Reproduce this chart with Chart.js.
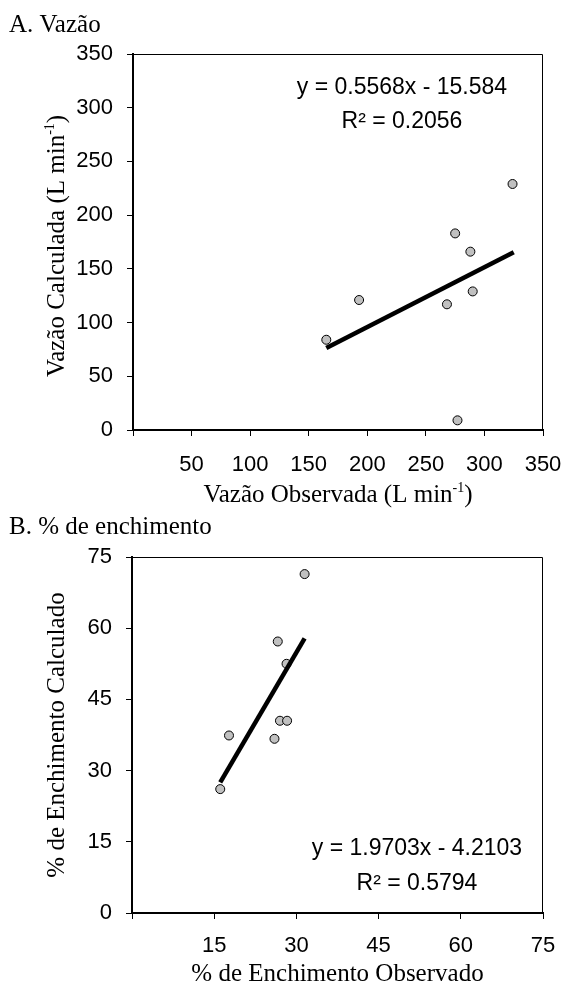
<!DOCTYPE html>
<html>
<head>
<meta charset="utf-8">
<script src="https://cdn.jsdelivr.net/npm/chart.js@4.4.0/dist/chart.umd.min.js"></script>
<style>
  body { margin: 0; background: #fff; }
  .panel { position: relative; width: 562px; }
  #panelA { height: 510px; }
  #panelB { height: 477px; }
</style>
</head>
<body>
<div class="panel" id="panelA"><canvas id="chartA"></canvas></div>
<div class="panel" id="panelB"><canvas id="chartB"></canvas></div>
<script>
// A. Vazão - observed vs calculated flow (L min-1)
var vazaoObservada = [165, 193, 268, 275, 288, 290, 277, 324];
var vazaoCalculada = [84, 121, 117, 183, 166, 129, 9, 229];
var vazaoTicks = [0, 50, 100, 150, 200, 250, 300, 350];
var vazaoSlope = 0.5568, vazaoIntercept = -15.584;
var vazaoTrendX = [165, 325];

// B. % de enchimento - observed vs calculated filling
var enchObservado = [31.5, 26.6, 28.2, 27.0, 28.3, 17.7, 26.0, 16.1];
var enchCalculado = [71.4, 57.2, 52.5, 40.5, 40.5, 37.4, 36.7, 26.1];
var enchTicks = [0, 15, 30, 45, 60, 75];
var enchSlope = 1.9703, enchIntercept = -4.2103;
var enchTrendX = [16.1, 31.5];

var SANS = "'Liberation Sans', Arial, sans-serif";
var SERIF = "'Liberation Serif', 'Times New Roman', serif";

function toPoints(xs, ys) {
  var pts = [];
  for (var i = 0; i < xs.length; i++) pts.push({ x: xs[i], y: ys[i] });
  return pts;
}

function trendPoints(xs, slope, intercept) {
  return xs.map(function (x) { return { x: x, y: slope * x + intercept }; });
}

// draw text made of pieces, some of them superscript, centered on x
function drawParts(ctx, parts, x, y, size) {
  var supSize = Math.round(size * 0.58);
  var widths = parts.map(function (p) {
    ctx.font = (p.sup ? supSize : size) + "px " + SERIF;
    return ctx.measureText(p.t).width;
  });
  var total = widths.reduce(function (a, b) { return a + b; }, 0);
  var cx = x - total / 2;
  ctx.textAlign = "left";
  ctx.textBaseline = "alphabetic";
  parts.forEach(function (p, i) {
    ctx.font = (p.sup ? supSize : size) + "px " + SERIF;
    ctx.fillText(p.t, cx, p.sup ? y - size * 0.42 : y);
    cx += widths[i];
  });
}

function makeChart(id, cfg) {
  var decor = {
    id: "decor",
    afterDraw: function (chart) {
      var ctx = chart.ctx;
      var a = chart.chartArea;
      var xs = chart.scales.x, ys = chart.scales.y;
      ctx.save();
      // top and right frame
      ctx.strokeStyle = "#000";
      ctx.lineWidth = 1;
      ctx.beginPath();
      ctx.moveTo(a.left, a.top + 0.5);
      ctx.lineTo(a.right - 0.5, a.top + 0.5);
      ctx.lineTo(a.right - 0.5, a.bottom);
      ctx.stroke();

      ctx.fillStyle = "#000";
      // panel title
      ctx.font = "25px " + SERIF;
      ctx.textAlign = "left";
      ctx.textBaseline = "alphabetic";
      ctx.fillText(cfg.title, 9, cfg.titleY);

      // x axis title
      drawParts(ctx, cfg.xTitle, (a.left + a.right) / 2, cfg.xTitleY, 25);

      // y axis title (rotated)
      ctx.save();
      ctx.translate(cfg.yTitleX, (a.top + a.bottom) / 2 + cfg.yTitleShift);
      ctx.rotate(-Math.PI / 2);
      drawParts(ctx, cfg.yTitle, 0, 0, 25);
      ctx.restore();

      // regression equation
      ctx.font = "23px " + SANS;
      ctx.textAlign = "center";
      ctx.textBaseline = "alphabetic";
      var ex = xs.getPixelForValue(cfg.eqAt[0]);
      var ey = ys.getPixelForValue(cfg.eqAt[1]);
      ctx.fillText(cfg.eq1, ex, ey);
      ctx.fillText(cfg.eq2, ex, ey + cfg.eqGap);
      ctx.restore();
    }
  };

  function axis(ticks, pad, fit) {
    return {
      type: "linear",
      min: ticks[0],
      max: ticks[ticks.length - 1],
      afterBuildTicks: function (scale) {
        scale.ticks = ticks.map(function (v) { return { value: v }; });
      },
      afterFit: fit,
      ticks: {
        color: "#000",
        font: { family: SANS, size: 22 },
        padding: pad,
        callback: function (v) { return v; }
      },
      grid: { drawOnChartArea: false, drawTicks: true, tickLength: 6, color: "#000", lineWidth: 1 },
      border: { display: true, color: "#000", width: 2 }
    };
  }

  var xAxis = axis(cfg.ticks, cfg.xPad, function (s) {
    s.height = cfg.xHeight;
    s.paddingLeft = 0;
    s.paddingRight = 0;
  });
  xAxis.ticks.callback = function (v) { return v === 0 ? "" : v; };
  var yAxis = axis(cfg.ticks, 14, function (s) {
    s.width = cfg.left;
    s.paddingTop = 0;
    s.paddingBottom = 0;
  });

  return new Chart(document.getElementById(id), {
    type: "scatter",
    data: {
      datasets: [
        {
          data: trendPoints(cfg.trendX, cfg.slope, cfg.intercept),
          showLine: true,
          borderColor: "#000",
          borderWidth: 4.5,
          pointRadius: 0,
          fill: false
        },
        {
          data: toPoints(cfg.xs, cfg.ys),
          pointRadius: 4.5,
          pointBackgroundColor: "#c0c0c0",
          pointBorderColor: "#000",
          pointBorderWidth: 1
        }
      ]
    },
    options: {
      responsive: true,
      maintainAspectRatio: false,
      animation: false,
      layout: { padding: { top: cfg.top, right: 19, left: 0, bottom: 0 } },
      plugins: { legend: { display: false }, tooltip: { enabled: false } },
      scales: { x: xAxis, y: yAxis }
    },
    plugins: [decor]
  });
}

makeChart("chartA", {
  xs: vazaoObservada, ys: vazaoCalculada, ticks: vazaoTicks,
  slope: vazaoSlope, intercept: vazaoIntercept, trendX: vazaoTrendX,
  top: 54, left: 133, xHeight: 80, xPad: 16,
  title: "A. Vazão", titleY: 32,
  xTitle: [{ t: "Vazão Observada (L min" }, { t: "-1", sup: true }, { t: ")" }], xTitleY: 502,
  yTitle: [{ t: "Vazão Calculada (L min" }, { t: "-1", sup: true }, { t: ")" }], yTitleX: 64, yTitleShift: 4,
  eq1: "y = 0.5568x - 15.584", eq2: "R² = 0.2056", eqAt: [229.6, 312.8], eqGap: 34
});

makeChart("chartB", {
  xs: enchObservado, ys: enchCalculado, ticks: enchTicks,
  slope: enchSlope, intercept: enchIntercept, trendX: enchTrendX,
  top: 47, left: 132, xHeight: 74, xPad: 14,
  title: "B. % de enchimento", titleY: 24,
  xTitle: [{ t: "% de Enchimento Observado" }], xTitleY: 471,
  yTitle: [{ t: "% de Enchimento Calculado" }], yTitleX: 64, yTitleShift: 0,
  eq1: "y = 1.9703x - 4.2103", eq2: "R² = 0.5794", eqAt: [52.0, 12.2], eqGap: 35
});
</script>
</body>
</html>
